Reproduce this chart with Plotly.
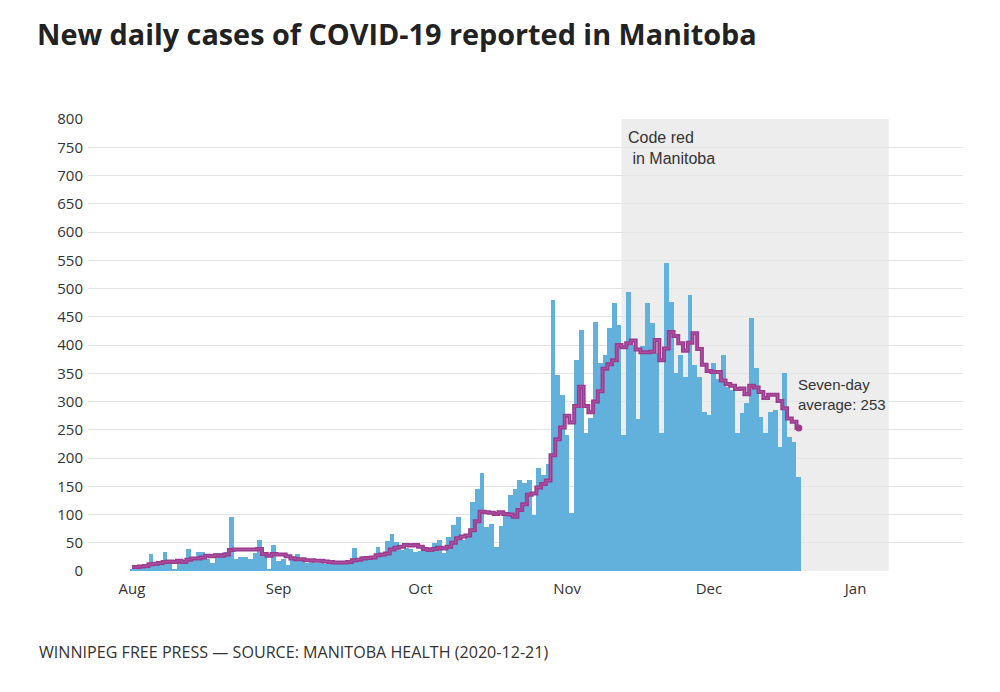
import pandas as pd
import plotly.graph_objects as go

# ---------------- data ----------------
start_date = "2020-08-01"

daily_aug = [4, 6, 8, 5, 30, 14, 12, 34, 16, 4, 17, 18, 39, 25, 33, 33, 22, 15, 32, 32,
             33, 95, 22, 24, 24, 22, 31, 54, 31, 2, 46]
daily_sep = [18, 22, 10, 26, 30, 17, 15, 18, 14, 16, 13, 17, 14, 15, 17, 18, 40, 20, 27, 25,
             22, 42, 30, 53, 65, 52, 37, 40, 39, 34]
daily_oct = [36, 37, 34, 50, 55, 32, 60, 81, 95, 55, 60, 123, 145, 173, 78, 84, 43, 80, 105, 134,
             146, 161, 155, 161, 99, 183, 170, 190, 480, 347, 311]
daily_nov = [241, 103, 373, 427, 244, 271, 441, 368, 382, 430, 474, 435, 241, 494, 400, 269, 398,
             474, 439, 386, 244, 545, 476, 350, 382, 344, 488, 365, 344, 282]
daily_dec = [276, 368, 340, 382, 326, 320, 245, 279, 297, 447, 359, 273, 244, 282, 285, 220, 350,
             238, 229, 167]

avg_aug = [7, 7, 8, 9, 12, 13, 14, 16, 17, 16, 18, 16, 20, 22, 22, 24, 27, 26, 28, 27,
           29, 37, 38, 38, 38, 38, 38, 39, 30, 27, 30]
avg_sep = [29, 29, 26, 22, 21, 21, 19, 19, 18, 18, 17, 16, 15, 15, 15, 16, 19, 20, 22, 23,
           24, 28, 29, 31, 38, 41, 43, 46, 45, 46]
avg_oct = [43, 39, 37, 39, 41, 40, 43, 50, 58, 61, 63, 72, 88, 105, 104, 103, 101, 104, 101, 100,
           96, 108, 118, 135, 137, 148, 154, 160, 205, 233, 254]
avg_nov = [275, 263, 292, 326, 292, 281, 300, 318, 358, 366, 373, 400, 396, 403, 408, 392, 387,
           387, 388, 409, 373, 394, 423, 416, 403, 390, 404, 421, 393, 365]
avg_dec = [354, 352, 352, 337, 331, 328, 322, 323, 313, 328, 325, 317, 306, 312, 312, 301, 288,
           270, 264, 253]

code_red_start = "2020-11-12 12:00"
code_red_end = "2021-01-08"
x_range = ["2020-07-22 17:00", "2021-01-23 17:00"]
y_ticks = list(range(0, 801, 50))

title_text = "New daily cases of COVID-19 reported in Manitoba"
source_text = "WINNIPEG FREE PRESS — SOURCE: MANITOBA HEALTH (2020-12-21)"
code_red_text = "Code red<br> in Manitoba"
avg_label = "Seven-day<br>average: {}"

# ---------------- build ----------------
daily = daily_aug + daily_sep + daily_oct + daily_nov + daily_dec
avg = avg_aug + avg_sep + avg_oct + avg_nov + avg_dec
dates = pd.date_range(start_date, periods=len(daily), freq="D")

BLUE = "#62b1dc"
PURPLE = "#9a3b8e"
PURPLE_LIGHT = "#b256a5"
TEXT = "#333333"

# the page body adds an 8px offset, so the figure is laid out 8px up/left
OFF = 8
W, H = 1000 - OFF, 692 - OFF
L = 88 - OFF
T = 119 - OFF
R = 1000 - 963
B = 692 - 571


def px_to_paper(px, py):
    return ((px - OFF) - L) / (W - L - R), ((H - B) - (py - OFF)) / (H - T - B)


fig = go.Figure()
fig.add_trace(go.Bar(x=dates, y=daily, marker=dict(color=BLUE, line=dict(width=0)),
                     hoverinfo="x+y"))
fig.add_trace(go.Scatter(x=dates, y=avg, mode="lines",
                         line=dict(shape="hvh", color=PURPLE, width=4), hoverinfo="skip"))
fig.add_trace(go.Scatter(x=dates, y=avg, mode="lines",
                         line=dict(shape="hvh", color=PURPLE_LIGHT, width=1), hoverinfo="skip"))
fig.add_trace(go.Scatter(x=[dates[-1]], y=[avg[-1]], mode="markers",
                         marker=dict(color=PURPLE, size=7), hoverinfo="skip"))

fig.add_shape(type="rect", xref="x", yref="y", x0=code_red_start, x1=code_red_end,
              y0=0, y1=800, fillcolor="#ededed", line=dict(width=0), layer="below")

fig.add_annotation(x="2020-11-13 12:00", y=749, xref="x", yref="y", text=code_red_text,
                   showarrow=False, xanchor="left", yanchor="middle", align="left",
                   font=dict(family="Liberation Sans", size=16, color=TEXT))
fig.add_annotation(x="2020-12-19 12:00", y=312, xref="x", yref="y",
                   text=avg_label.format(avg[-1]),
                   showarrow=False, xanchor="left", yanchor="middle", align="left",
                   font=dict(family="Liberation Sans", size=15, color=TEXT))

fx, fy = px_to_paper(37, 652)
fig.add_annotation(x=fx, y=fy, xref="paper", yref="paper", text=source_text,
                   showarrow=False, xanchor="left", yanchor="middle",
                   font=dict(family="Open Sans", size=16.1, color=TEXT))

fig.update_layout(
    width=W, height=H,
    margin=dict(l=L, r=R, t=T, b=B, pad=0),
    plot_bgcolor="white", paper_bgcolor="white",
    bargap=0, showlegend=False,
    title=dict(text=title_text, x=(37 - OFF) / W, xanchor="left",
               y=1 - (35 - OFF) / H, yanchor="middle",
               font=dict(family="Open Sans", size=28.8, color="#222222", weight="bold")),
    xaxis=dict(range=x_range, type="date", dtick="M1", tick0="2020-08-01", tickformat="%b",
               showgrid=False, zeroline=False, showline=False,
               ticks="outside", ticklen=4, tickcolor="rgba(0,0,0,0)",
               tickfont=dict(family="Open Sans", size=15, color=TEXT)),
    yaxis=dict(range=[0, 800], tickvals=y_ticks, showgrid=True, gridcolor="#e4e4e4",
               gridwidth=1, zeroline=False, showline=False,
               ticks="outside", ticklen=1, tickcolor="rgba(0,0,0,0)",
               tickfont=dict(family="Open Sans", size=15, color=TEXT)),
)

fig.write_html("out.html")
